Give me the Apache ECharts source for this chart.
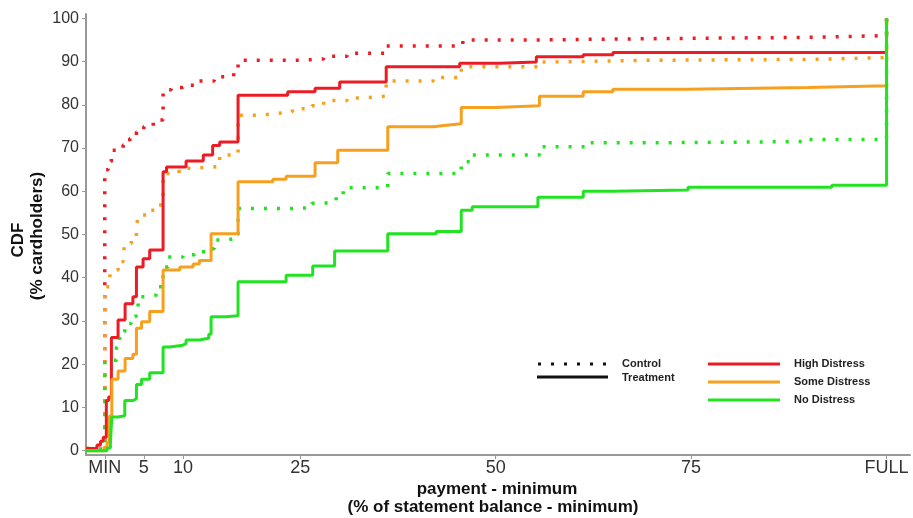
<!DOCTYPE html>
<html>
<head>
<meta charset="utf-8">
<script src="https://cdn.jsdelivr.net/npm/echarts@6/dist/echarts.min.js"></script>
<style>
html,body{margin:0;padding:0;background:#fff;}
#chart{width:913px;height:518px;}
</style>
</head>
<body>
<div id="chart"></div>
<script>
// x tick positions and labels
var xTickValues = [0, 5, 10, 25, 50, 75, 100];
var xTickLabels = ['MIN', '5', '10', '25', '50', '75', 'FULL'];
var yTickValues = [0, 10, 20, 30, 40, 50, 60, 70, 80, 90, 100];

// High Distress
var highControl = [[-2.4,0.5],[0,65],[0.43,66.8],[0.85,69.5],[2.35,70.7],[3.2,72.2],[4.05,73.7],[5.0,75],[6.2,76.5],[7.46,83.5],[8.5,84],[10,84.5],[11.5,85.5],[14,86.5],[16.5,88],[17.05,90.3],[25,90.6],[28,91.2],[31,91.9],[36,93.6],[45.8,95],[55.6,95.3],[70,95.6],[90,96],[100,96],[100,100]];
var highTreatment = [[-2.4,0.5],[-1.0,1.3],[-0.55,2.2],[-0.2,3.1],[0.2,11.6],[0.5,12.4],[0.85,26.2],[1.7,30.2],[2.6,34],[3.6,35.6],[4.05,42.5],[4.9,44.4],[5.75,46.4],[7.46,64.5],[7.9,65.6],[10.4,67],[12.6,68.4],[13.8,70.6],[14.7,71.4],[17.05,82.2],[23.4,83],[26.9,83.8],[30.05,85.3],[36,88.8],[45.4,89.6],[50.5,89.9],[55.2,91.1],[61.2,91.6],[65,92.1],[100,92.1],[100,100]];

// Some Distress
var someControl = [[-2.4,0.5],[0,37.9],[0.64,40.2],[0.85,41.8],[1.7,43.7],[2.35,45.2],[2.56,47.9],[3.4,49.5],[4.05,51.4],[4.26,54.5],[5.3,55.6],[6.4,56.8],[7.46,64.1],[9.5,65.3],[11,65.7],[14.7,68.4],[17.05,77.6],[20,78],[22,78.4],[24,79.1],[26.5,79.8],[28,81],[31,81.6],[33,82],[36,85.5],[42,86.3],[45.6,88.8],[55.9,89.9],[57,90.3],[70,90.5],[90,90.9],[100,91],[100,100]];
var someTreatment = [[-2.4,0],[-0.1,0.8],[0.3,2],[0.6,8],[0.9,16.5],[1.7,18.4],[2.6,21.3],[3.6,22.3],[4.05,28.3],[4.7,29.8],[5.75,32.2],[7.46,41.8],[9.6,42.5],[11.3,43.2],[12.1,44],[13.6,50.2],[17.05,62.2],[21.5,62.8],[23.2,63.5],[26.9,66.6],[29.8,69.5],[36.2,74.9],[42,75.3],[44,75.6],[45.6,79.4],[50,79.8],[55.6,82],[61.2,83],[65,83.6],[74.6,84],[90,84.4],[100,84.5],[100,100]];

// No Distress
var noControl = [[-2.4,0.3],[0,20.9],[1.5,24],[1.9,27.5],[2.56,29.4],[3.4,31],[4.0,32.5],[4.26,35.6],[5.3,36],[6.6,37.9],[7.46,42.5],[8.1,44.8],[10,45.3],[11.5,46],[13,46.7],[14,48.7],[15.5,49],[16.5,50],[17.05,56],[24,56.2],[26.5,57.2],[28,57.6],[29.6,58.7],[30.5,60.8],[36.2,64.1],[45.6,66.8],[47,68.4],[55.6,70.3],[62,71.2],[70,71.5],[90,72],[100,72],[100,100]];
var noTreatment = [[-2.4,0],[0.3,0.6],[0.72,1.8],[0.9,7.8],[1.7,8.1],[2.56,11.6],[3.6,12],[4.05,15.3],[4.7,16.5],[5.75,18],[7.46,24],[8.3,24.4],[10,24.8],[10.4,25.6],[12.1,26],[13.3,26.9],[13.6,31],[15.5,31.2],[17.05,39.1],[23.2,40.6],[26.6,42.7],[29.4,46.2],[36.2,50.2],[42.4,50.7],[45.6,55.6],[47,56.4],[55.4,58.6],[61.2,60],[65,60.3],[74.6,60.9],[93,61.4],[100,61.6],[100,100]];

var RED = '#ec1c24', ORANGE = '#f7a01e', GREEN = '#22e322';

function ctrl(name, data, color) {
  return {name: name, type: 'line', step: 'end', data: data, showSymbol: false, silent: true,
    lineStyle: {color: color, width: 3.5, type: [3, 10], cap: 'butt'}, z: 2};
}
function treat(name, data, color) {
  return {name: name, type: 'line', step: 'end', data: data, showSymbol: false, silent: true,
    lineStyle: {color: color, width: 3, type: 'solid'}, z: 3};
}

var chart = echarts.init(document.getElementById('chart'), null, {renderer: 'canvas'});
var axisFont = '"Liberation Sans", Arial, sans-serif';
var titleFont = 'bold 17px "Liberation Sans", Arial, sans-serif';
var legendFont = 'bold 11px "Liberation Sans", Arial, sans-serif';

chart.setOption({
  animation: false,
  backgroundColor: '#fff',
  grid: {left: 86, right: 3, top: 14, bottom: 63, containLabel: false},
  xAxis: {
    type: 'value', min: -2.4, max: 103,
    axisLine: {show: true, onZero: false, lineStyle: {color: '#999', width: 2}},
    axisTick: {show: true, length: 4, lineStyle: {color: '#999', width: 1}, customValues: xTickValues},
    axisLabel: {customValues: xTickValues, margin: 4, color: '#333', fontSize: 18, fontFamily: axisFont,
      formatter: function (v) { var i = xTickValues.indexOf(v); return i >= 0 ? xTickLabels[i] : ''; }},
    splitLine: {show: false}
  },
  yAxis: {
    type: 'value', min: -1, max: 101,
    axisLine: {show: true, onZero: false, lineStyle: {color: '#999', width: 2}},
    axisTick: {show: true, length: 4, lineStyle: {color: '#999', width: 1}, customValues: yTickValues},
    axisLabel: {customValues: yTickValues, margin: 7, color: '#333', fontSize: 16, fontFamily: axisFont},
    splitLine: {show: false}
  },
  series: [
    ctrl('High Distress Control', highControl, RED),
    ctrl('Some Distress Control', someControl, ORANGE),
    ctrl('No Distress Control', noControl, GREEN),
    treat('High Distress Treatment', highTreatment, RED),
    treat('Some Distress Treatment', someTreatment, ORANGE),
    treat('No Distress Treatment', noTreatment, GREEN)
  ],
  graphic: [
    // axis titles
    {type: 'text', x: 497, y: 489, style: {text: 'payment - minimum', font: titleFont, fill: '#111', align: 'center', verticalAlign: 'middle'}},
    {type: 'text', x: 493, y: 507, style: {text: '(% of statement balance - minimum)', font: titleFont, fill: '#111', align: 'center', verticalAlign: 'middle'}},
    {type: 'text', x: 18, y: 240, rotation: Math.PI / 2, style: {text: 'CDF', font: titleFont, fill: '#111', align: 'center', verticalAlign: 'middle'}},
    {type: 'text', x: 37, y: 236, rotation: Math.PI / 2, style: {text: '(% cardholders)', font: titleFont, fill: '#111', align: 'center', verticalAlign: 'middle'}},
    // legend: line types
    {type: 'line', shape: {x1: 538, y1: 364, x2: 609, y2: 364}, style: {stroke: '#111', lineWidth: 3, lineDash: [3, 10]}},
    {type: 'line', shape: {x1: 537, y1: 377, x2: 608, y2: 377}, style: {stroke: '#111', lineWidth: 3}},
    {type: 'text', x: 622, y: 364, style: {text: 'Control', font: legendFont, fill: '#222', verticalAlign: 'middle'}},
    {type: 'text', x: 622, y: 378, style: {text: 'Treatment', font: legendFont, fill: '#222', verticalAlign: 'middle'}},
    // legend: colours
    {type: 'line', shape: {x1: 708, y1: 364, x2: 780, y2: 364}, style: {stroke: RED, lineWidth: 3}},
    {type: 'line', shape: {x1: 708, y1: 382, x2: 780, y2: 382}, style: {stroke: ORANGE, lineWidth: 3}},
    {type: 'line', shape: {x1: 708, y1: 400, x2: 780, y2: 400}, style: {stroke: GREEN, lineWidth: 3}},
    {type: 'text', x: 794, y: 364, style: {text: 'High Distress', font: legendFont, fill: '#222', verticalAlign: 'middle'}},
    {type: 'text', x: 794, y: 382, style: {text: 'Some Distress', font: legendFont, fill: '#222', verticalAlign: 'middle'}},
    {type: 'text', x: 794, y: 400, style: {text: 'No Distress', font: legendFont, fill: '#222', verticalAlign: 'middle'}}
  ]
});
</script>
</body>
</html>
